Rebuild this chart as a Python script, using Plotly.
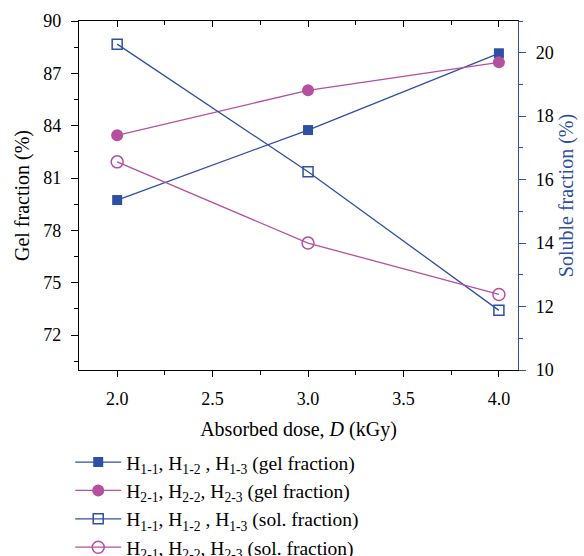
import plotly.graph_objects as go

dose = [2.0, 3.0, 4.0]
gel_h1 = [79.74, 83.75, 88.15]
gel_h2 = [83.45, 86.03, 87.63]
sol_h1 = [20.27, 16.25, 11.88]
sol_h2 = [16.56, 14.0, 12.38]

names = [
    "H<sub>1-1</sub>, H<sub>1-2</sub> , H<sub>1-3</sub> (gel fraction)",
    "H<sub>2-1</sub>, H<sub>2-2</sub>, H<sub>2-3</sub> (gel fraction)",
    "H<sub>1-1</sub>, H<sub>1-2</sub> , H<sub>1-3</sub> (sol. fraction)",
    "H<sub>2-1</sub>, H<sub>2-2</sub>, H<sub>2-3</sub> (sol. fraction)",
]

BLUE = "#2e4fa3"
MAG = "#b5509f"
FONT = "Liberation Serif"

fig = go.Figure()
fig.add_trace(go.Scatter(x=dose, y=gel_h1, name=names[0], mode="lines+markers",
                         line=dict(color=BLUE, width=1.3),
                         marker=dict(symbol="square", size=10, color=BLUE)))
fig.add_trace(go.Scatter(x=dose, y=gel_h2, name=names[1], mode="lines+markers",
                         line=dict(color=MAG, width=1.3),
                         marker=dict(symbol="circle", size=12, color=MAG)))
fig.add_trace(go.Scatter(x=dose, y=sol_h1, name=names[2], mode="lines+markers", yaxis="y2",
                         line=dict(color=BLUE, width=1.3),
                         marker=dict(symbol="square-open", size=10, color=BLUE, line=dict(width=1.5))))
fig.add_trace(go.Scatter(x=dose, y=sol_h2, name=names[3], mode="lines+markers", yaxis="y2",
                         line=dict(color=MAG, width=1.3),
                         marker=dict(symbol="circle-open", size=12, color=MAG, line=dict(width=1.5))))
fig.add_trace(go.Scatter(x=[], y=[], xaxis="x2", yaxis="y", showlegend=False, hoverinfo="skip"))

fig.update_layout(
    width=584, height=556,
    margin=dict(l=79, r=66, t=21, b=186, autoexpand=False),
    paper_bgcolor="white", plot_bgcolor="white",
    font=dict(family=FONT, size=18, color="black"),
    showlegend=True,
    legend=dict(x=-0.02, y=-0.209, xanchor="left", yanchor="top",
                font=dict(family=FONT, size=19.5), bgcolor="rgba(0,0,0,0)",
                tracegroupgap=0, itemwidth=46),
    xaxis=dict(range=[1.8, 4.1], tick0=2, dtick=0.5, tickformat=".1f",
               showline=True, linecolor="black", linewidth=1.2,
               ticks="outside", ticklen=6, tickcolor="black",
               minor=dict(ticks="outside", ticklen=4, dtick=0.25, tick0=2, tickcolor="black"),
               showgrid=False, zeroline=False, ticklabelstandoff=6, automargin=False,
               title=dict(text="Absorbed dose, <i>D</i> (kGy)", standoff=14,
                          font=dict(family=FONT, size=20)),
               tickfont=dict(family=FONT, size=18)),
    xaxis2=dict(range=[1.8, 4.1], overlaying="x", side="top", anchor="y",
                tick0=2, dtick=0.5, showticklabels=False,
                showline=True, linecolor="black", linewidth=1.2,
                ticks="inside", ticklen=6, tickcolor="black",
                minor=dict(ticks="inside", ticklen=4, dtick=0.25, tick0=2, tickcolor="black"),
                showgrid=False, zeroline=False, automargin=False),
    yaxis=dict(range=[70, 90], tick0=72, dtick=3,
               showline=True, linecolor="black", linewidth=1.2,
               ticks="outside", ticklen=7, tickcolor="black",
               minor=dict(ticks="outside", ticklen=4, dtick=1.5, tick0=72, tickcolor="black"),
               showgrid=False, zeroline=False, ticklabelstandoff=6, automargin=False,
               title=dict(text="Gel fraction (%)", standoff=8,
                          font=dict(family=FONT, size=20)),
               tickfont=dict(family=FONT, size=18)),
    yaxis2=dict(range=[10, 21], tick0=10, dtick=2, overlaying="y", side="right",
                showline=True, linecolor=BLUE, linewidth=1.2,
                ticks="outside", ticklen=7, tickcolor=BLUE,
                minor=dict(ticks="outside", ticklen=4, dtick=1, tick0=10, tickcolor=BLUE),
                showgrid=False, zeroline=False, ticklabelstandoff=6, automargin=False,
                title=dict(text="Soluble fraction (%)", standoff=6,
                           font=dict(family=FONT, size=20, color=BLUE)),
                tickfont=dict(family=FONT, size=18, color="black")),
)

fig.write_html("out.html", config={"displayModeBar": False},
               post_script="document.body.style.margin='0';")
